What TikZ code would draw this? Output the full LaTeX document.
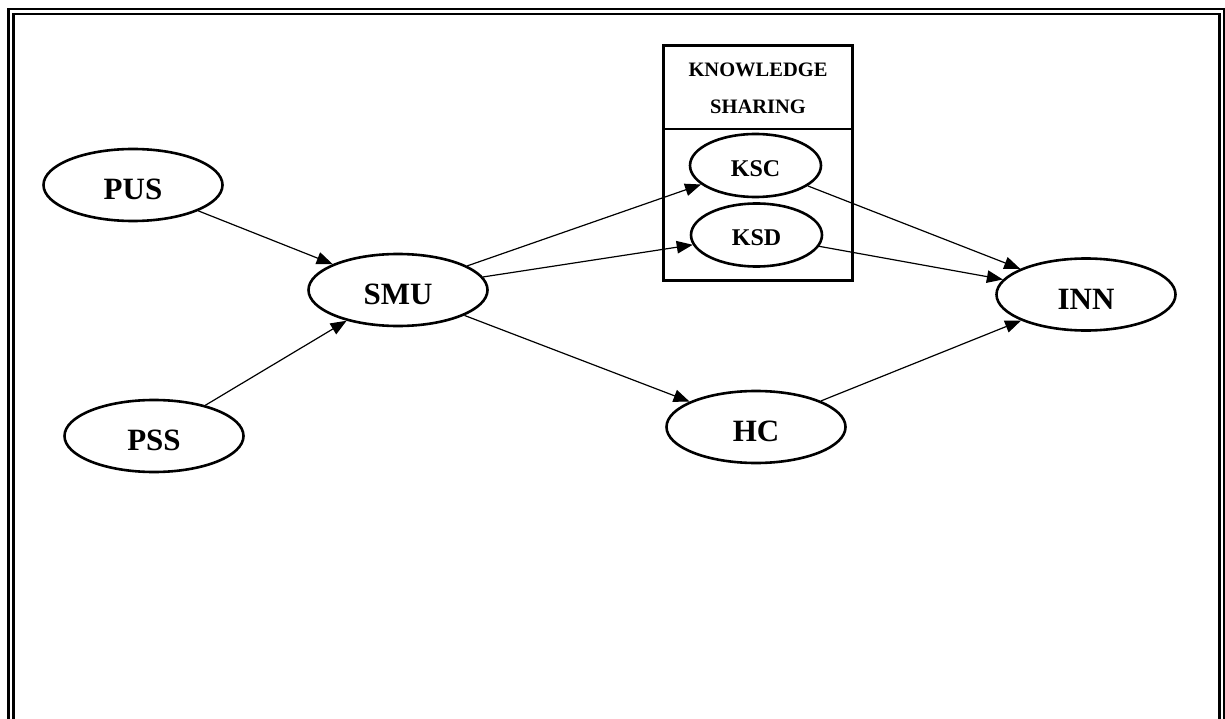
\documentclass[tikz,border=0pt]{standalone}
\usepackage{fontspec}
\setmainfont{Liberation Serif}
\usetikzlibrary{arrows.meta,shapes.geometric}

\begin{document}
\begin{tikzpicture}[x=1pt, y=-1pt,
    construct/.style={ellipse, draw, line width=2.6pt, inner sep=0pt,
        minimum width=179pt, minimum height=72pt, text height=29pt, text depth=0pt,
        font=\fontsize{31}{36}\selectfont\bfseries},
    subconstruct/.style={construct, minimum width=131pt, minimum height=63pt,
        text height=22pt, font=\fontsize{24}{28}\selectfont\bfseries},
    link/.style={line width=1.2pt, -{Triangle[length=16pt,width=12.5pt]}}]
    \useasboundingbox (0,0) rectangle (1225,719);

    % Double frame (open at the bottom)
    \draw[line width=2.6pt] (8.5,730) -- (8.5,9) -- (1223.8,9) -- (1223.8,730);
    \draw[line width=2.2pt] (13.5,730) -- (13.5,14) -- (1219.5,14) -- (1219.5,730);

    % Knowledge sharing box
    \draw[line width=2.6pt] (663.5,45.5) rectangle (852.5,280.5);
    \draw[line width=2pt] (663.5,129) -- (852.5,129);
    \node[font=\fontsize{20.5}{37}\selectfont\bfseries, align=center] (ks) at (758,88.5) {KNOWLEDGE\\SHARING};

    % Constructs
    \node[construct] (pus) at (133,185) {PUS};
    \node[construct] (pss) at (154,436) {PSS};
    \node[construct] (smu) at (398,290) {SMU};
    \node[construct] (hc) at (756,427) {HC};
    \node[construct] (inn) at (1086,294.5) {INN};
    \node[subconstruct] (ksc) at (755.5,165.5) {KSC};
    \node[subconstruct] (ksd) at (756.5,235) {KSD};

    % Paths
    \draw[link] (pus) -- (smu);
    \draw[link] (pss) -- (smu);
    \draw[link] (smu) -- (ksc);
    \draw[link] (smu) -- (ksd);
    \draw[link] (smu) -- (hc);
    \draw[link] (ksc) -- (inn);
    \draw[link] (ksd) -- (inn);
    \draw[link] (hc) -- (inn);
\end{tikzpicture}
\end{document}
